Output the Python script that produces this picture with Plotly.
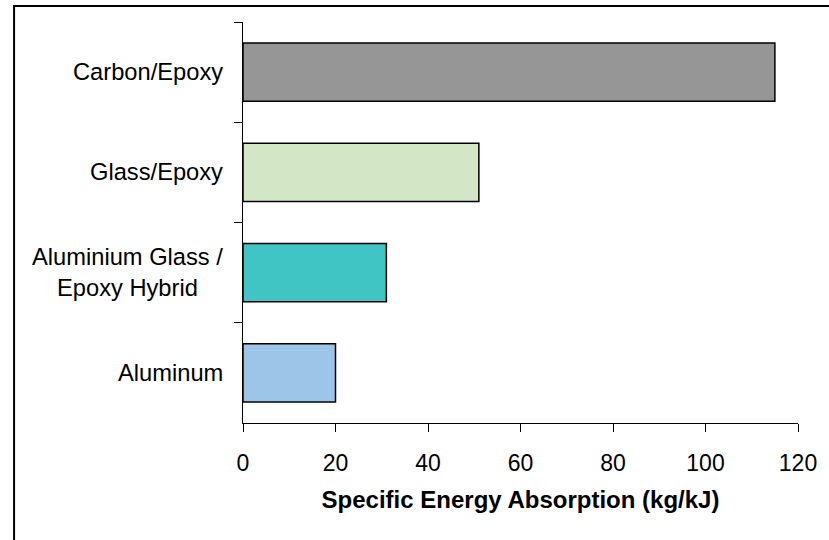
import plotly.graph_objects as go

categories = ["Carbon/Epoxy", "Glass/Epoxy", "Aluminium Glass /<br>Epoxy Hybrid", "Aluminum"]
values = [115, 51, 31, 20]
colors = ["#969696", "#D3E7C7", "#40C4C4", "#9DC5E8"]
x_ticks = [0, 20, 40, 60, 80, 100, 120]
x_title = "Specific Energy Absorption (kg/kJ)"

FONT = "Liberation Sans, Arial, sans-serif"

fig = go.Figure()
fig.add_trace(go.Bar(
    x=values,
    y=categories,
    orientation="h",
    marker=dict(color=colors, line=dict(color="#000000", width=1.5)),
    hoverinfo="x+y",
))

W, H = 829, 540
L, R, T, B = 243, 26, 22, 117
pw, ph = W - L - R, H - T - B

fig.update_layout(
    width=W, height=H,
    margin=dict(l=L, r=R, t=T, b=B),
    paper_bgcolor="white",
    plot_bgcolor="white",
    bargap=0.42,
    showlegend=False,
    font=dict(family=FONT, color="#000000", size=23),
)

fig.update_xaxes(
    range=[0, 120],
    tickvals=x_ticks,
    ticks="outside", ticklen=8, tickcolor="#000000", tickwidth=1,
    showline=True, linecolor="#000000", linewidth=1,
    showgrid=False, zeroline=False,
    tickfont=dict(size=23, family=FONT),
    ticklabelstandoff=11,
    title=dict(text="<b>" + x_title + "</b>", font=dict(size=24, family=FONT), standoff=16),
)

fig.update_yaxes(
    autorange="reversed",
    type="category",
    tickson="boundaries",
    ticks="outside", ticklen=8, tickcolor="#000000", tickwidth=1,
    showline=True, linecolor="#000000", linewidth=1,
    showgrid=False, zeroline=False,
    showticklabels=False,
)

for c in categories:
    fig.add_annotation(
        x=0, xref="paper", y=c, yref="y",
        text=c, showarrow=False,
        xanchor="right", yanchor="middle", align="center",
        xshift=-18,
        font=dict(size=23.7, family=FONT, color="#000000"),
    )

# outer chart frame (extends past right and bottom edges of the canvas)
fig.add_shape(
    type="rect", xref="paper", yref="paper",
    x0=(12 - L) / pw, x1=(W + 10 - L) / pw,
    y0=-(B + 10) / ph, y1=1 + (T - 6) / ph,
    line=dict(color="#000000", width=2),
    fillcolor="rgba(0,0,0,0)",
    layer="below",
)

fig.write_html(
    "out.html",
    config={"displayModeBar": False},
    post_script="document.body.style.margin='0';document.body.style.overflow='hidden';",
)
